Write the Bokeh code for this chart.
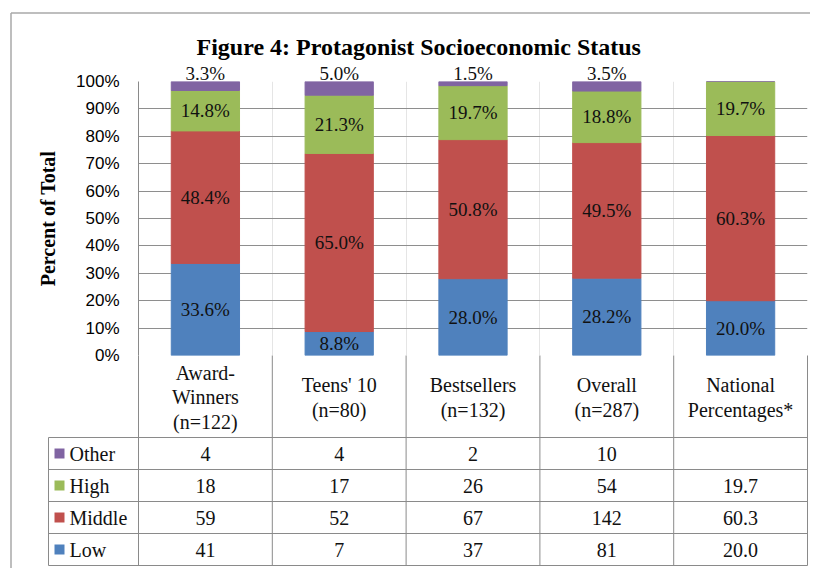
import math
from bokeh.plotting import figure
from bokeh.models import Range1d, FixedTicker, PrintfTickFormatter, ColumnDataSource
from bokeh.core.properties import value
from bokeh.embed import file_html
from bokeh.resources import INLINE

# ---------------- data ----------------
categories = ["Award-\nWinners\n(n=122)", "Teens' 10\n(n=80)", "Bestsellers\n(n=132)",
              "Overall\n(n=287)", "National\nPercentages*"]
stack_order = ["Low", "Middle", "High", "Other"]      # bottom -> top
table_order = ["Other", "High", "Middle", "Low"]      # table rows, top -> bottom
low = [41, 7, 37, 81, 20.0]
middle = [59, 52, 67, 142, 60.3]
high = [18, 17, 26, 54, 19.7]
other = [4, 4, 2, 10, None]
y_ticks = [0, 10, 20, 30, 40, 50, 60, 70, 80, 90, 100]
title_text = "Figure 4: Protagonist Socioeconomic Status"
y_label = "Percent of Total"

colors = {"Low": "#4F81BD", "Middle": "#C0504D", "High": "#9BBB59", "Other": "#8064A2"}
raw = {"Low": low, "Middle": middle, "High": high, "Other": other}

# ---------------- geometry / style ----------------
FIG_W, FIG_H = 810, 568
B_L, B_R, B_T, B_B = 138, 3, 81, 213
FRAME_W = FIG_W - B_L - B_R
FRAME_H = FIG_H - B_T - B_B
n = len(categories)
ppx = FRAME_W / n
ppy = FRAME_H / 100.0

HEADER_H, ROW_H, LEG_W = 82, 32, 90
SQ_X, TXT_X = 79, 69
GRID = "#8E8E8E"
TABLE = "#8A8A8A"
SERIF = "Liberation Serif"


def dx(px):
    return px / ppx


def dy(px):
    return px / ppy


def r1(v):
    return math.floor(v * 10 + 0.5 + 1e-9) / 10


totals = []
for i in range(n):
    totals.append(sum(raw[s][i] for s in stack_order if raw[s][i] is not None))
pct = {s: [(raw[s][i] / totals[i] * 100.0 if raw[s][i] is not None else 0.0) for i in range(n)]
       for s in stack_order}

xs = [i + 0.5 for i in range(n)]
src = ColumnDataSource(dict(x=xs, **{s: pct[s] for s in stack_order}))

p = figure(width=FIG_W, height=FIG_H, x_range=Range1d(0, n), y_range=Range1d(0, 100),
           output_backend="svg", toolbar_location=None, x_axis_location=None,
           min_border_left=B_L, min_border_right=B_R, min_border_top=B_T, min_border_bottom=B_B,
           outline_line_color=None, background_fill_color="white", border_fill_color="white")

p.title.text = title_text
p.title.text_font = SERIF
p.title.text_font_style = "bold"
p.title.text_font_size = "24px"
p.title.text_color = "#000000"
p.title.align = "left"
p.title.offset = 58
p.title.standoff = 43

yax = p.yaxis[0]
yax.ticker = FixedTicker(ticks=y_ticks)
yax.formatter = PrintfTickFormatter(format="%d%%")
yax.major_tick_in = 0
yax.major_tick_out = 0
yax.minor_tick_in = 0
yax.minor_tick_out = 0
yax.major_label_standoff = 19
yax.major_label_text_font = "Liberation Sans"
yax.major_label_text_font_size = "17px"
yax.major_label_text_color = "#000000"
yax.axis_line_color = TABLE
yax.axis_label = y_label
yax.axis_label_text_font = SERIF
yax.axis_label_text_font_style = "bold"
yax.axis_label_text_font_size = "20px"
yax.axis_label_text_color = "#000000"
yax.axis_label_standoff = 14

p.ygrid.ticker = FixedTicker(ticks=y_ticks)
p.ygrid.grid_line_color = GRID

# ---------------- stacked bars ----------------
p.vbar_stack(stack_order, x="x", width=0.51, source=src,
             color=[colors[s] for s in stack_order])

# ---------------- data labels ----------------
lx, ly, lt = [], [], []
ox, ot = [], []
for i in range(n):
    cum = 0.0
    for s in stack_order:
        v = pct[s][i]
        if raw[s][i] is None:
            continue
        txt = f"{r1(v):.1f}%"
        if s == "Other":
            ox.append(xs[i])
            ot.append(txt)
        else:
            lx.append(xs[i])
            ly.append(cum + v / 2)
            lt.append(txt)
        cum += v

p.text(x=lx, y=ly, text=lt, text_font=value(SERIF), text_font_size="19px",
       text_align="center", text_baseline="middle", text_color="#111111", level="overlay")
p.text(x=ox, y=[100] * len(ox), text=ot, text_font=value(SERIF), text_font_size="19px",
       text_align="center", text_baseline="middle", y_offset=-8, text_color="#111111",
       level="overlay")

# ---------------- data table ----------------
y_hdr = -dy(HEADER_H)
y_rows = [-dy(HEADER_H + ROW_H * k) for k in range(len(table_order) + 1)]
x_leg = -dx(LEG_W)

# horizontal lines
p.segment(x0=[x_leg] * len(y_rows), y0=y_rows, x1=[n] * len(y_rows), y1=y_rows,
          line_color=TABLE, line_width=1, level="overlay")
# vertical lines
vx = list(range(n + 1))
p.segment(x0=vx, y0=[0] * len(vx), x1=vx, y1=[y_rows[-1]] * len(vx),
          line_color=TABLE, line_width=1, level="overlay")
p.segment(x0=[x_leg], y0=[y_hdr], x1=[x_leg], y1=[y_rows[-1]],
          line_color=TABLE, line_width=1, level="overlay")

# header
p.text(x=xs, y=[-dy(HEADER_H / 2 + 1)] * n, text=categories, text_font=value(SERIF),
       text_font_size="20px", text_align="center", text_baseline="middle",
       text_line_height=1.1, text_color="#111111", level="overlay")

# rows
cx, cy, ct = [], [], []
for k, s in enumerate(table_order):
    yc = -dy(HEADER_H + ROW_H * (k + 0.5))
    for i in range(n):
        v = raw[s][i]
        if v is None:
            continue
        cx.append(xs[i])
        cy.append(yc)
        ct.append(str(v) if isinstance(v, int) else f"{v:.1f}")
p.text(x=cx, y=cy, text=ct, text_font=value(SERIF), text_font_size="20px",
       text_align="center", text_baseline="middle", text_color="#111111", level="overlay")

# legend keys (short thick segments = squares) and names
row_y = [-dy(HEADER_H + ROW_H * (k + 0.5)) for k in range(len(table_order))]
for k, s in enumerate(table_order):
    p.segment(x0=[-dx(SQ_X + 5)], y0=[row_y[k]], x1=[-dx(SQ_X - 5)], y1=[row_y[k]],
              line_color=colors[s], line_width=10, line_cap="butt", level="overlay")
p.text(x=[-dx(TXT_X)] * len(table_order), y=row_y, text=table_order, text_font=value(SERIF),
       text_font_size="20px", text_align="left", text_baseline="middle",
       text_color="#111111", level="overlay")

# chart-area border (left and top)
bx = -dx(B_L - 10.5)
by_top = 100 + dy(B_T - 12.5)
p.segment(x0=[bx, bx], y0=[by_top, by_top], x1=[bx, n + dx(B_R + 5)], y1=[-dy(B_B + 5), by_top],
          line_color="#A8A8A8", line_width=1.5, level="overlay")

open("out.html", "w").write(file_html(p, INLINE))
